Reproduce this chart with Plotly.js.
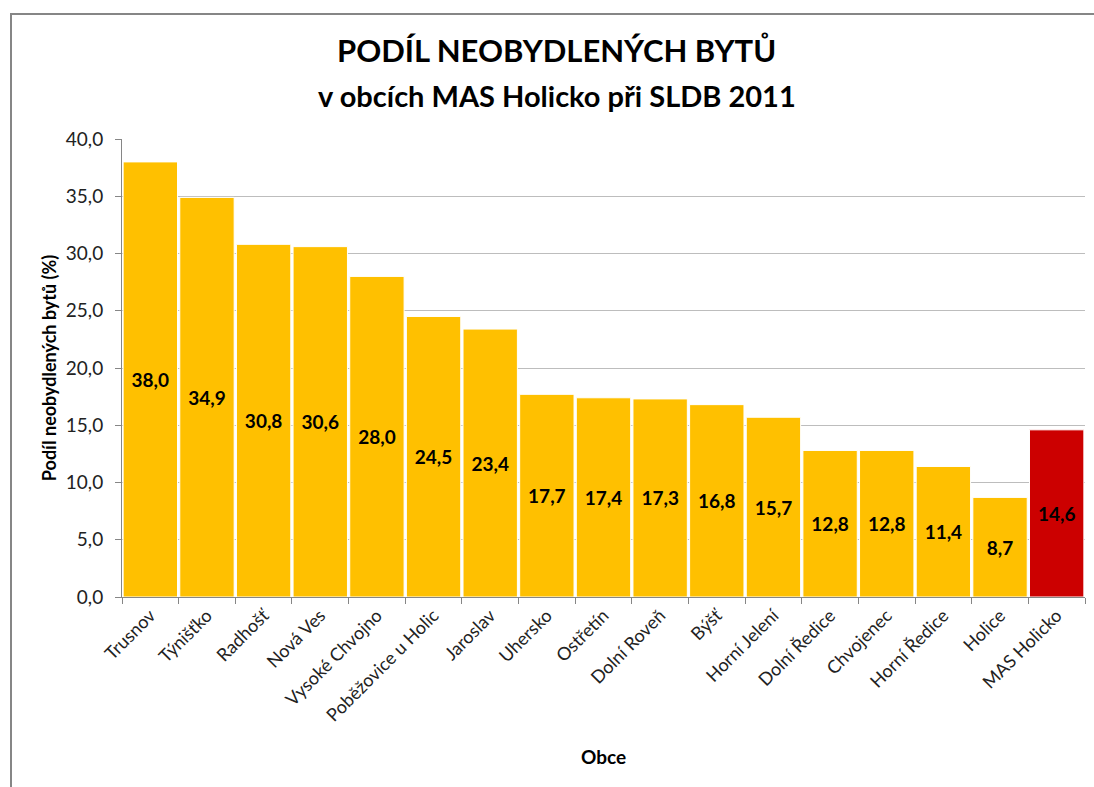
<!DOCTYPE html>
<html>
<head>
<meta charset="utf-8">
<script src="https://cdn.plot.ly/plotly-3.0.1.min.js"></script>
<style>
  html, body { margin: 0; padding: 0; background: #fff; }
  #wrap { position: relative; width: 1094px; height: 787px; }
  #frame { position: absolute; left: 10px; top: 13px; width: 1100px; height: 800px;
           border-left: 2px solid #868686; border-top: 2px solid #868686; pointer-events: none; }
  #chart { position: absolute; left: 0; top: 0; width: 1094px; height: 787px; }
</style>
</head>
<body>
<div id="wrap">
  <div id="chart"></div>
  <div id="frame"></div>
</div>
<script>
const categories = ["Trusnov", "Týnišťko", "Radhošť", "Nová Ves", "Vysoké Chvojno",
  "Poběžovice u Holic", "Jaroslav", "Uhersko", "Ostřetín", "Dolní Roveň", "Býšť",
  "Horní Jelení", "Dolní Ředice", "Chvojenec", "Horní Ředice", "Holice", "MAS Holicko"];
const values = [38.0, 34.9, 30.8, 30.6, 28.0, 24.5, 23.4, 17.7, 17.4, 17.3, 16.8,
  15.7, 12.8, 12.8, 11.4, 8.7, 14.6];
const barColors = categories.map(c => c === "MAS Holicko" ? "#CC0000" : "#FFC000");
const yTicks = [0, 5, 10, 15, 20, 25, 30, 35, 40];
const titleLine1 = "PODÍL NEOBYDLENÝCH BYTŮ";
const titleLine2 = "v obcích MAS Holicko při SLDB 2011";

const FONT = "Lato, 'Open Sans', sans-serif";

const trace = {
  type: "bar",
  x: categories,
  y: values,
  marker: { color: barColors, line: { color: "#ffffff", width: 1 } },
  texttemplate: "%{y:.1f}",
  textposition: "inside",
  insidetextanchor: "middle",
  textangle: 0,
  textfont: { family: FONT, size: 19, color: "#000", weight: "bold" },
  cliponaxis: false,
  hoverinfo: "x+y"
};

const layout = {
  width: 1094, height: 787,
  paper_bgcolor: "rgba(0,0,0,0)",
  plot_bgcolor: "#fff",
  separators: ", ",
  showlegend: false,
  bargap: 0.04,
  margin: { l: 122, r: 9, t: 139, b: 190 },
  font: { family: FONT, color: "#222" },
  annotations: [
    { text: "<b>" + titleLine1 + "</b>", xref: "paper", yref: "paper", x: 0.4517, y: 1.194,
      xanchor: "center", yanchor: "middle", showarrow: false,
      font: { family: FONT, size: 31, color: "#000" } },
    { text: "<b>" + titleLine2 + "</b>", xref: "paper", yref: "paper", x: 0.4517, y: 1.096,
      xanchor: "center", yanchor: "middle", showarrow: false,
      font: { family: FONT, size: 29, color: "#000" } }
  ],
  xaxis: {
    type: "category",
    tickangle: -45,
    tickfont: { family: FONT, size: 18, color: "#222" },
    showline: true, linecolor: "#868686", linewidth: 1,
    ticks: "outside", ticklen: 6, tickcolor: "#868686", tickson: "boundaries",
    showgrid: false,
    title: { text: "<b>Obce</b>", font: { family: FONT, size: 19, color: "#000" }, standoff: 26 },
    automargin: false
  },
  yaxis: {
    range: [0, 40],
    tickvals: yTicks,
    tickformat: ".1f",
    tickfont: { family: FONT, size: 19, color: "#222" },
    ticklabelstandoff: 8,
    showline: true, linecolor: "#868686", linewidth: 1,
    ticks: "outside", ticklen: 6, tickcolor: "#868686",
    showgrid: true, gridcolor: "#BDBDBD", gridwidth: 1,
    zeroline: false,
    title: { text: "<b>Podíl neobydlených bytů (%)</b>", font: { family: FONT, size: 18, color: "#000" }, standoff: 4 },
    automargin: false
  }
};

Plotly.newPlot("chart", [trace], layout, { displayModeBar: false, staticPlot: true });
</script>
</body>
</html>
